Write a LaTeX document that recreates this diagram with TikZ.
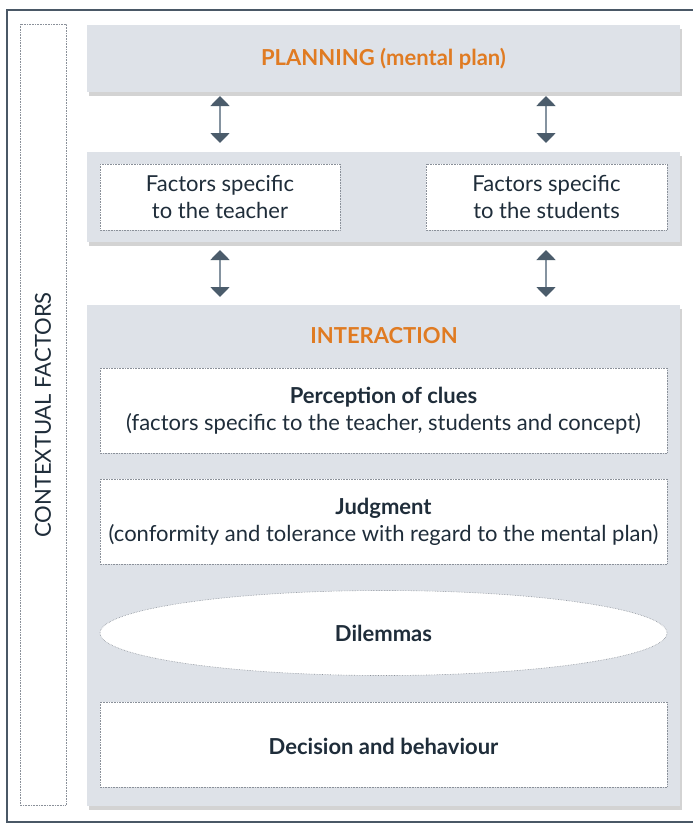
\documentclass[tikz,border=0pt]{standalone}
\usepackage{fontspec}
\setmainfont{Lato}
\usetikzlibrary{shapes.geometric,shadows,arrows.meta}
\definecolor{panel}{HTML}{DEE2E8}
\definecolor{orangeT}{HTML}{E07B22}
\definecolor{textD}{HTML}{1F2D3A}
\definecolor{dotG}{HTML}{8A9099}
\definecolor{frameC}{HTML}{4A5866}
\definecolor{arrowH}{HTML}{4B5C6B}
\definecolor{arrowL}{HTML}{8593A0}
\begin{document}
\begin{tikzpicture}[x=1pt,y=-1pt,
  panelbox/.style={fill=panel,draw=none,drop shadow={opacity=0.35,shadow xshift=2pt,shadow yshift=-4pt}},
  whitebox/.style={fill=white,draw=dotG,densely dotted,line width=0.6pt},
  txt/.style={text=textD,font=\fontsize{22}{27}\selectfont,align=center},
  btxt/.style={text=textD,font=\fontsize{22}{27}\selectfont\bfseries,align=center},
  otxt/.style={text=orangeT,font=\fontsize{22}{27}\selectfont\bfseries,align=center},
  dblarrow/.style={draw=arrowL,line width=1.8pt,{Triangle[width=19pt,length=10pt,color=arrowH]}-{Triangle[width=19pt,length=10pt,color=arrowH]}}
]
\useasboundingbox (0,0) rectangle (693,830);
% outer frame
\draw[frameC,line width=1.6pt] (7,10) rectangle (705,822);
% contextual factors
\draw[whitebox] (20,24) rectangle (66,805);
\node[txt,rotate=90] (ctxt) at (43,415) {CONTEXTUAL FACTORS};
% planning
\fill[panelbox] (87,25) rectangle (680,92);
\node[otxt] (plan) at (383.5,58.5) {PLANNING (mental plan)};
\coordinate (planL) at (220,96);
\coordinate (planR) at (546,96);
% factors
\fill[panelbox] (87,152) rectangle (680,242);
\draw[whitebox] (100,164) rectangle (340,230);
\draw[whitebox] (426,164) rectangle (667,230);
\node[txt] (ft) at (220,197) {Factors specific\\to the teacher};
\node[txt] (fs) at (546.5,197) {Factors specific\\to the students};
\coordinate (ftT) at (220,143);
\coordinate (fsT) at (546,143);
\coordinate (ftB) at (220,250);
\coordinate (fsB) at (546,250);
\coordinate (inL) at (220,297);
\coordinate (inR) at (546,297);
\draw[dblarrow] (planL) -- (ftT);
\draw[dblarrow] (planR) -- (fsT);
\draw[dblarrow] (ftB) -- (inL);
\draw[dblarrow] (fsB) -- (inR);
% interaction
\fill[panelbox] (87,305) rectangle (680,806);
\node[otxt] (inter) at (384,336) {INTERACTION};
\draw[whitebox] (100,368) rectangle (667,453);
\node[txt] (perc) at (383.5,410.5) {\textbf{Perception of clues}\\(factors specific to the teacher, students and concept)};
\draw[whitebox] (100,479) rectangle (667,564);
\node[txt] (judg) at (383.5,521.5) {\textbf{Judgment}\\(conformity and tolerance with regard to the mental plan)};
\node[whitebox,ellipse,minimum width=567pt,minimum height=85pt,inner sep=0pt] (dil) at (383.5,633) {};
\node[btxt] at (dil) {Dilemmas};
\draw[whitebox] (100,702) rectangle (667,787);
\node[btxt] (dec) at (383.5,746) {Decision and behaviour};
\end{tikzpicture}
\end{document}
